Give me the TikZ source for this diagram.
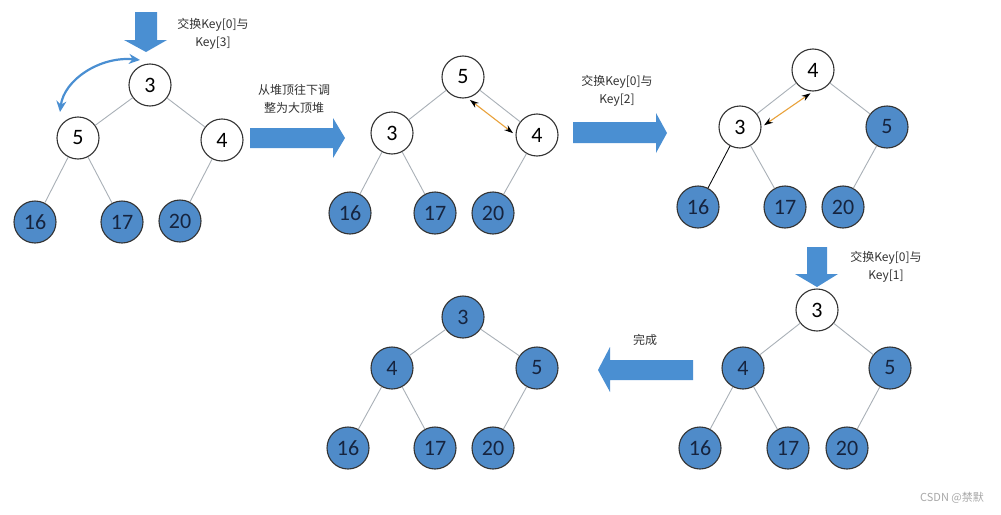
\documentclass[tikz,border=0pt]{standalone}
\usepackage{fontspec}
\setmainfont{Carlito}
\newfontfamily\cjk{Noto Sans CJK SC}
\usetikzlibrary{arrows.meta}
\definecolor{heapblue}{HTML}{4F8BC9}
\definecolor{arrblue}{HTML}{4A8FD2}
\definecolor{ringgray}{HTML}{333333}
\definecolor{numink}{HTML}{16243F}
\definecolor{edgegray}{HTML}{A9B0B7}
\definecolor{swaporange}{HTML}{E9A23B}
\definecolor{noteink}{HTML}{333333}
\definecolor{markgray}{HTML}{A8A8A8}
\tikzset{
  keynode/.style={circle,draw=ringgray,fill=white,line width=1.1pt,
                  minimum size=42pt,inner sep=0pt,
                  font=\fontsize{22}{22}\selectfont,text=black},
  donenode/.style={keynode,fill=heapblue,text=numink},
  treeedge/.style={draw=edgegray,line width=0.9pt},
  swaparr/.style={{Stealth[length=9pt,width=6pt,color=black]}-{Stealth[length=9pt,width=6pt,color=black]},
                  draw=swaporange,line width=1.1pt,shorten <=3pt,shorten >=3pt},
  curvarr/.style={{Stealth[length=11pt,width=10pt]}-{Stealth[length=11pt,width=10pt]},
                  draw=arrblue,line width=2.2pt},
  bigarr/.style={fill=arrblue},
  notetext/.style={font=\cjk\fontsize{12}{18}\selectfont,text=noteink,align=center}
}

\begin{document}
\begin{tikzpicture}[x=1pt,y=-1pt]
  \fill[white] (0,0) rectangle (1001,514);
  \useasboundingbox (0,0) rectangle (1001,514);
  % tree 1
  \node[keynode]  (a0) at (150,85)  {3};
  \node[keynode]  (a1) at (78,138)  {5};
  \node[keynode]  (a2) at (222,140) {4};
  \node[donenode] (a3) at (35,222)  {16};
  \node[donenode] (a4) at (122,222) {17};
  \node[donenode] (a5) at (180,221) {20};
  % tree 2
  \node[keynode]  (b0) at (463,77)  {5};
  \node[keynode]  (b1) at (392,133) {3};
  \node[keynode]  (b2) at (537,135) {4};
  \node[donenode] (b3) at (350,213) {16};
  \node[donenode] (b4) at (435,213) {17};
  \node[donenode] (b5) at (493,213) {20};
  % tree 3
  \node[keynode]  (c0) at (813,70)  {4};
  \node[keynode]  (c1) at (740,127) {3};
  \node[donenode] (c2) at (887,127) {5};
  \node[donenode] (c3) at (698,207) {16};
  \node[donenode] (c4) at (785,207) {17};
  \node[donenode] (c5) at (843,207) {20};
  % tree 4
  \node[keynode]  (d0) at (817,310) {3};
  \node[donenode] (d1) at (743,368) {4};
  \node[donenode] (d2) at (890,368) {5};
  \node[donenode] (d3) at (700,448) {16};
  \node[donenode] (d4) at (788,448) {17};
  \node[donenode] (d5) at (847,448) {20};
  % tree 5: finished
  \node[donenode] (e0) at (463,317) {3};
  \node[donenode] (e1) at (392,368) {4};
  \node[donenode] (e2) at (537,368) {5};
  \node[donenode] (e3) at (348,448) {16};
  \node[donenode] (e4) at (435,448) {17};
  \node[donenode] (e5) at (493,448) {20};

  \foreach \t in {a,b,c,d,e} {
    \draw[treeedge] (\t0)--(\t1) (\t0)--(\t2) (\t1)--(\t3) (\t1)--(\t4) (\t2)--(\t5);
  }
  \draw[black,line width=0.7pt] (c1)--(c3);

  % swaps
  \coordinate (swapA) at (60,112);
  \coordinate (swapB) at (140,60);
  \draw[curvarr] (swapA) .. controls (64,80) and (100,56) .. (swapB);
  \draw[swaparr] (b0.-78) -- (b2.west);
  \draw[swaparr] (c0.south) -- (c1.east);

  % block arrows
  \fill[bigarr] (135,12) -- (157,12) -- (157,40) -- (167,40) -- (146,52) -- (124,40) -- (135,40) -- cycle;
  \fill[bigarr] (250,128) -- (333,128) -- (333,118) -- (345,138) -- (333,158) -- (333,148) -- (250,148) -- cycle;
  \fill[bigarr] (573,122) -- (656,122) -- (656,113) -- (667,133) -- (656,153) -- (656,143) -- (573,143) -- cycle;
  \fill[bigarr] (807,247) -- (827,247) -- (827,274) -- (838,274) -- (817,287) -- (795,274) -- (807,274) -- cycle;
  \fill[bigarr] (693,360) -- (610,360) -- (610,347) -- (598,370) -- (610,392) -- (610,380) -- (693,380) -- cycle;

  % notes
  \node[notetext] (lab1) at (213,34)    {交换Key[0]与\\Key[3]};
  \node[notetext] (lab2) at (294,99)    {从堆顶往下调\\整为大顶堆};
  \node[notetext] (lab3) at (617,91)    {交换Key[0]与\\Key[2]};
  \node[notetext] (lab4) at (886,266.5) {交换Key[0]与\\Key[1]};
  \node[notetext] (lab5) at (645,340)   {完成};
  \node[font=\cjk\fontsize{11}{12}\selectfont,text=markgray] (mark) at (952,498) {CSDN @禁默};
\end{tikzpicture}
\end{document}
